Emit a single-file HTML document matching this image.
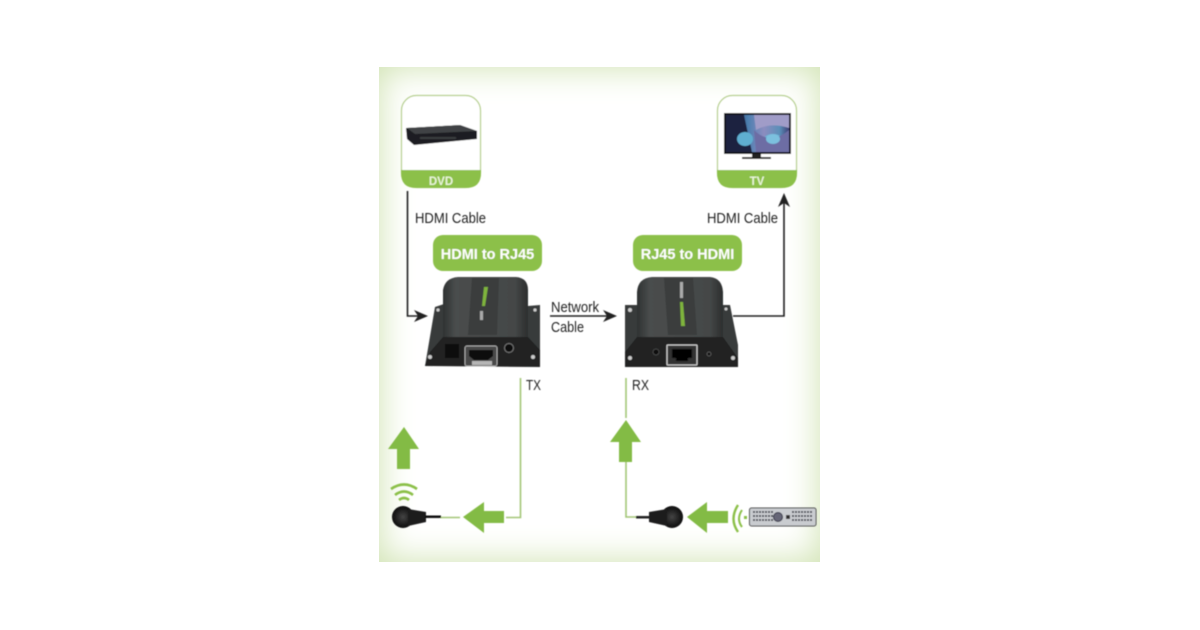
<!DOCTYPE html>
<html><head><meta charset="utf-8"><style>
html,body{margin:0;padding:0;background:#fff;width:1200px;height:630px;overflow:hidden}
svg{position:absolute;left:0;top:0}
#panel{position:absolute;left:379px;top:67px;width:441px;height:495px;background:#fff;box-shadow:inset 0 0 34px 1px #cfe2b0}
text{font-family:"Liberation Sans",sans-serif}
</style></head><body>
<div id="panel"></div>
<svg width="1200" height="630" viewBox="0 0 1200 630" xmlns="http://www.w3.org/2000/svg">
<defs>
<filter id="b" x="-10%" y="-10%" width="120%" height="120%"><feGaussianBlur stdDeviation="0.5"/></filter>
<linearGradient id="body" x1="0" x2="1" y1="0" y2="0"><stop offset="0" stop-color="#2f3232"/><stop offset=".15" stop-color="#4a4d4d"/><stop offset=".85" stop-color="#444747"/><stop offset="1" stop-color="#2c2e2e"/></linearGradient>
<linearGradient id="tv" x1="0" x2="1" y1="0" y2="0"><stop offset="0" stop-color="#1d2a55"/><stop offset=".35" stop-color="#4d7fb0"/><stop offset=".6" stop-color="#8c8dc0"/><stop offset=".85" stop-color="#5b8fb8"/><stop offset="1" stop-color="#3f4078"/></linearGradient>
<radialGradient id="ball"><stop offset="0" stop-color="#444"/><stop offset="1" stop-color="#0c0c0c"/></radialGradient>
</defs>
<g filter="url(#b)">
<!-- DVD box -->
<rect x="401.5" y="95.5" width="79" height="92" rx="15" fill="#fff" stroke="#b5cf8c" stroke-width="1.2"/>
<path d="M401 170H481V173Q481 188 466 188H416Q401 188 401 173Z" fill="#8cc04a"/>
<path d="M406 128L460 125L477 131V139L414 145L407 139Z" fill="#1d1f20"/>
<path d="M407 128L460 125L477 131L415 134Z" fill="#3f4245"/>
<rect x="420" y="137" width="36" height="2" fill="#3a3d40"/>
<!-- TV box -->
<rect x="717.5" y="95.5" width="79" height="92" rx="15" fill="#fff" stroke="#b5cf8c" stroke-width="1.2"/>
<path d="M717 170H797V173Q797 188 782 188H732Q717 188 717 173Z" fill="#8cc04a"/>
<rect x="724" y="113" width="67" height="41" fill="#15171c"/>
<rect x="726" y="115" width="63" height="37" fill="url(#tv)"/>
<path d="M726 115H744L752 152H726Z" fill="#1a2140"/>
<ellipse cx="745" cy="139" rx="8" ry="7" fill="#5eaed0"/>
<ellipse cx="773" cy="139" rx="9" ry="5" fill="#6bb4d6"/>
<path d="M754 115H789V128Q770 122 756 130Z" fill="#a09cc8"/>
<path d="M754 130Q770 146 789 130V152H756Z" fill="#6d6da4"/>
<ellipse cx="773" cy="139" rx="7" ry="5" fill="#7cc0de"/>
<rect x="752" y="154" width="9" height="3" fill="#222"/>
<rect x="742" y="157" width="29" height="2" fill="#222"/>
<!-- Pills -->
<rect x="433" y="235" width="109" height="36" rx="10" fill="#8cc04a"/>
<rect x="633" y="235" width="109" height="36" rx="10" fill="#8cc04a"/>
<!-- Black connectors -->
<path d="M407.5 191V316H420" fill="none" stroke="#222" stroke-width="1.6"/>
<path d="M428 316L414 310L418 316L414 322Z" fill="#222"/>
<path d="M550 316H610" fill="none" stroke="#222" stroke-width="1.4"/>
<path d="M617 316L603 310L607 316L603 322Z" fill="#222"/>
<path d="M733 316H784V200" fill="none" stroke="#222" stroke-width="1.6"/>
<path d="M784 193L778 207L784 203L790 207Z" fill="#222"/>
<!-- TX device -->
<path d="M435 307L444 304V340L425 366Z" fill="#383b3b"/>
<path d="M528 306L540 305V366H528Z" fill="#383b3b"/>
<circle cx="438" cy="310" r="1.6" fill="#ccc"/>
<circle cx="535" cy="310" r="1.6" fill="#ccc"/>
<path d="M443 340V290Q445 278 458 277H516Q528 278 528 290V340Z" fill="url(#body)"/>
<path d="M472 278H499L497 335H468Z" fill="#3a3d3d"/>
<path d="M488 287L485 306L482 306L484 287Z" fill="#7fb43c"/>
<rect x="480" y="311" width="3" height="9" fill="#aaa"/>
<path d="M443 337H528L540 350V367L425 366L430 352Z" fill="#222424"/>
<rect x="445" y="344" width="14" height="14" fill="#0e0e0e"/>
<rect x="465" y="346" width="32" height="20" rx="2" fill="#4a4a4a" stroke="#aaa"/>
<path d="M469 350H493V356L488 360H474L469 356Z" fill="#0a0a0a"/>
<rect x="472" y="361" width="20" height="4" fill="#b5b5b5"/>
<circle cx="509" cy="348" r="4.5" fill="#111" stroke="#777"/>
<circle cx="430" cy="357" r="2" fill="#ccc"/>
<circle cx="533" cy="357" r="2" fill="#ccc"/>
<!-- RX device -->
<path d="M625 305H637V367H625Z" fill="#383b3b"/>
<path d="M723 305H730L738 345V366H723Z" fill="#383b3b"/>
<path d="M637 340V292Q638 278 652 277H710Q722 278 723 292V340Z" fill="url(#body)"/>
<path d="M664 278H693L697 335H668Z" fill="#3a3d3d"/>
<path d="M680 302H683L685 326H681Z" fill="#7fb43c"/>
<rect x="680" y="282" width="3" height="16" fill="#aaa"/>
<path d="M637 337H723L738 358V367H625V352Z" fill="#222424"/>
<rect x="667" y="345" width="30" height="20" rx="1" fill="#333" stroke="#ccc" stroke-width="1.3"/>
<path d="M672 349H692V358H688V361H676V358H672Z" fill="#050505"/>
<circle cx="656" cy="352" r="3" fill="#111" stroke="#444"/>
<circle cx="709" cy="354" r="2" fill="#111" stroke="#555"/>
<circle cx="630" cy="358" r="2" fill="#ccc"/>
<circle cx="733" cy="358" r="2" fill="#ccc"/>
<circle cx="630" cy="310" r="2" fill="#ccc"/>
<circle cx="726" cy="309" r="1.5" fill="#ccc"/>
<!-- Green thin lines -->
<path d="M520.5 378V517.5H506" fill="none" stroke="#a3c677" stroke-width="1.6"/>
<path d="M460 517.5H440" fill="none" stroke="#a3c677" stroke-width="1.4"/>
<path d="M626 378V418M626 462V517H636" fill="none" stroke="#a3c677" stroke-width="1.6"/>
<!-- Green arrows -->
<path d="M404 427L419 449H410V469H397V449H388Z" fill="#83bb44"/>
<path d="M463 517L484 502V511H504V523H484V533Z" fill="#83bb44"/>
<path d="M626 420L641 442H632V462H619V442H610Z" fill="#83bb44"/>
<path d="M687 517L707 502V511H728V523H707V533Z" fill="#83bb44"/>
<!-- Wifi -->
<path d="M391 489Q404 480 417 489M395 495Q404 488 413 495M399 500Q404 496 409 500" fill="none" stroke="#8cc04a" stroke-width="2.6"/>
<!-- Left IR plug -->
<circle cx="403" cy="517" r="11" fill="url(#ball)"/>
<path d="M408 509L426 512V522L408 526Z" fill="#1a1a1a"/>
<rect x="425" y="515.5" width="16" height="2.5" fill="#111"/>
<!-- Right IR plug -->
<circle cx="672" cy="517" r="11" fill="url(#ball)"/>
<path d="M667 509L649 512V522L667 526Z" fill="#1a1a1a"/>
<rect x="636" y="516" width="14" height="2.5" fill="#222"/>
<!-- IR waves -->
<path d="M738 505Q729 519 738 532" fill="none" stroke="#8cc04a" stroke-width="2.4"/>
<path d="M742 510Q736 519 742 527" fill="none" stroke="#8cc04a" stroke-width="2"/>
<rect x="744" y="516" width="3" height="3" fill="#8cc04a"/>
<!-- Remote -->
<rect x="749.5" y="508" width="66.5" height="18" rx="2" fill="#c9ccd0" stroke="#444" stroke-width="1"/>
<g fill="none" stroke="#4a4d55" stroke-width="2" stroke-dasharray="2 1">
<path d="M753 512H773M753 516H773M753 520H773M792 512H812M792 516H812M792 520H812"/>
</g>
<rect x="786" y="515" width="4" height="4" fill="#333"/>
<circle cx="778" cy="517" r="4.5" fill="#667" stroke="#334"/>
<!-- Text -->
<text x="441" y="185" font-size="11.5" fill="#e9f4d8" text-anchor="middle" font-weight="bold">DVD</text>
<text x="757" y="185" font-size="11.5" fill="#e9f4d8" text-anchor="middle" font-weight="bold">TV</text>
<text x="487.5" y="259" font-size="14.5" fill="#fff" text-anchor="middle" font-weight="bold">HDMI to RJ45</text>
<text x="687.5" y="259" font-size="14.5" fill="#fff" text-anchor="middle" font-weight="bold">RJ45 to HDMI</text>
<g fill="#222" font-size="15">
<text x="415" y="223" textLength="71" lengthAdjust="spacingAndGlyphs">HDMI Cable</text>
<text x="707" y="223" textLength="71" lengthAdjust="spacingAndGlyphs">HDMI Cable</text>
<text x="551" y="312" textLength="48" lengthAdjust="spacingAndGlyphs">Network</text>
<text x="551" y="332" textLength="33" lengthAdjust="spacingAndGlyphs">Cable</text>
<text x="526" y="390" textLength="15" lengthAdjust="spacingAndGlyphs">TX</text>
<text x="632" y="390" textLength="17" lengthAdjust="spacingAndGlyphs">RX</text>
</g>
</g>
</svg>
</body></html>
